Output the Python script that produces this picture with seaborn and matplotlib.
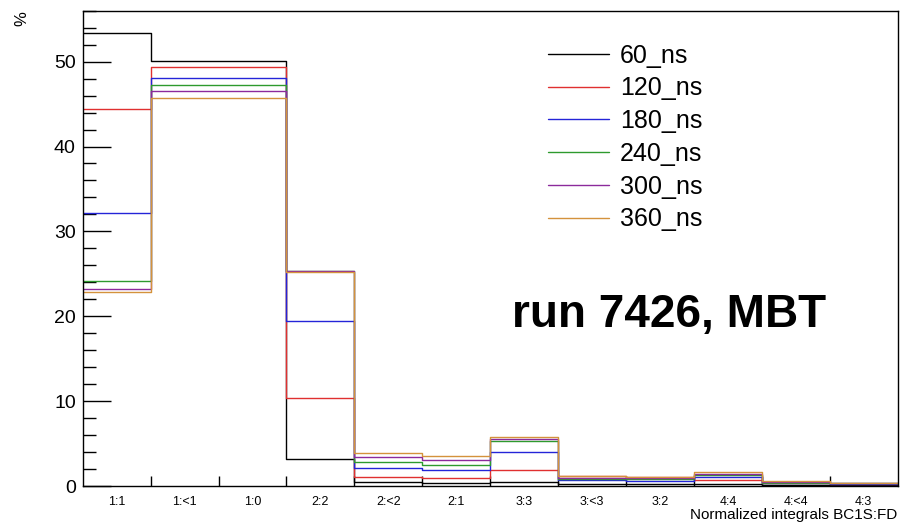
import numpy as np
import pandas as pd
import matplotlib
matplotlib.use("Agg")
import matplotlib.pyplot as plt
from matplotlib.lines import Line2D
from matplotlib.ticker import MultipleLocator, FixedLocator
import seaborn as sns

categories = ["1:1", "1:<1", "1:0", "2:2", "2:<2", "2:1", "3:3", "3:<3", "3:2", "4:4", "4:<4", "4:3"]
series_names = ["60_ns", "120_ns", "180_ns", "240_ns", "300_ns", "360_ns"]

v60 = [53.4, 50.1, 50.1, 3.2, 0.5, 0.3, 0.5, 0.25, 0.2, 0.25, 0.1, 0.1]
v120 = [44.4, 49.4, 49.4, 10.35, 1.1, 0.9, 1.9, 1.2, 1.1, 0.75, 0.35, 0.2]
v180 = [32.2, 48.1, 48.1, 19.4, 2.1, 1.9, 4.0, 0.7, 0.65, 1.05, 0.3, 0.25]
v240 = [24.1, 47.2, 47.2, 25.3, 2.85, 2.5, 5.3, 0.85, 0.8, 1.25, 0.4, 0.4]
v300 = [23.2, 46.5, 46.5, 25.35, 3.4, 3.05, 5.55, 1.0, 0.95, 1.45, 0.45, 0.3]
v360 = [22.85, 45.7, 45.7, 25.2, 3.9, 3.5, 5.8, 1.15, 1.05, 1.65, 0.55, 0.35]

colors = ["#000000", "#e03030", "#2424d8", "#2e9a2e", "#8c2a9c", "#d4923c"]

series_values = [v60, v120, v180, v240, v300, v360]
rows = []
for name, vals in zip(series_names, series_values):
    for i, v in enumerate(vals):
        rows.append({"pos": i, "value": v, "delay": name})
df = pd.DataFrame(rows)

sns.set_theme(style="white")
plt.rcParams["font.family"] = ["Liberation Sans", "DejaVu Sans"]
plt.rcParams["text.color"] = "black"
plt.rcParams["axes.labelcolor"] = "black"
plt.rcParams["xtick.color"] = "black"
plt.rcParams["ytick.color"] = "black"

fig = plt.figure(figsize=(9, 5.28), dpi=100)
ax = fig.add_axes([0.0919, 0.0795, 0.9055, 0.9002])

# draw in order so that the last series ends up on top
for name, col in zip(series_names, colors):
    sns.histplot(data=df[df["delay"] == name], x="pos", weights="value",
                 color=col, discrete=True, element="step", fill=False,
                 linewidth=1.0, ax=ax)

ax.set_xlim(-0.5, len(categories) - 0.5)
ax.set_ylim(0, 56)

# y ticks
ax.yaxis.set_major_locator(MultipleLocator(10))
ax.yaxis.set_minor_locator(MultipleLocator(2))
ax.tick_params(axis="y", which="major", direction="in", length=20, width=1.0,
               labelsize=14, pad=5, left=True, right=False, colors="black")
ax.tick_params(axis="y", which="minor", direction="in", length=9.5, width=1.0,
               left=True, right=False)

# x ticks: labels at bin centers, tick marks at bin edges
ax.set_xticks(range(len(categories)))
ax.set_xticklabels(categories)
ax.xaxis.set_minor_locator(FixedLocator(np.arange(0.5, len(categories) - 0.5, 1.0)))
ax.tick_params(axis="x", which="major", length=0, labelsize=9, pad=7, bottom=True)
ax.tick_params(axis="x", which="minor", direction="in", length=7, width=1.0, bottom=True)

ax.set_xlabel("")
ax.set_ylabel("")
for s in ax.spines.values():
    s.set_visible(True)
    s.set_color("black")
    s.set_linewidth(1.0)

fig.text(0.9975, 0.012, "Normalized integrals BC1S:FD", ha="right", va="bottom", fontsize=11)
fig.text(0.024, 0.964, "%", rotation=90, ha="center", va="center", fontsize=12)

handles = [Line2D([0], [0], color=c, lw=1.0) for c in colors]
leg = ax.legend(handles, series_names, loc="upper left", bbox_to_anchor=(0.571, 0.931),
                frameon=False, fontsize=18, handlelength=2.44, handletextpad=0.44,
                labelspacing=0.35, borderpad=0, borderaxespad=0)

ax.text(0.719, 0.335, "run 7426, MBT", transform=ax.transAxes, ha="center",
        va="baseline", fontsize=33, fontweight="bold", color="black")

fig.savefig("out.png", dpi=100)
